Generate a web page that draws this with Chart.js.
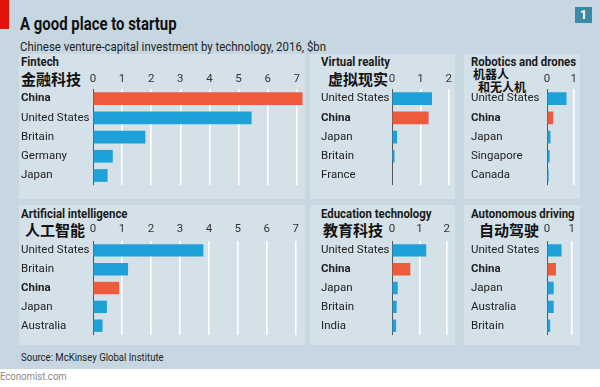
<!DOCTYPE html>
<html>
<head>
<meta charset="utf-8">
<script src="https://cdn.jsdelivr.net/npm/chart.js@4"></script>
<style>
  body { margin: 0; width: 600px; height: 387px; background: #fff; position: relative; overflow: hidden;
         font-family: Roboto, sans-serif; color: #1a1a1a; }
  #bg { position: absolute; left: 0; top: 0; width: 600px; height: 369px; background: #c7d7e1; }
  .panel { position: absolute; background: #d4e1e9; }
  .t { position: absolute; white-space: nowrap; line-height: 1; transform-origin: 0 0; }
  .b { font-weight: bold; }
  .h { font-weight: bold; font-size: 12px; transform: scaleX(0.95); }
  .cn { font-family: 'Noto Sans CJK SC', sans-serif; font-weight: bold; color: #111; }
  canvas { position: absolute; }
</style>
</head>
<body>
<div id="bg"></div>

<div class="panel" style="left:19px;top:54px;width:286px;height:145px"></div>
<div class="panel" style="left:310px;top:54px;width:145px;height:145px"></div>
<div class="panel" style="left:464px;top:54px;width:116px;height:145px"></div>
<div class="panel" style="left:19px;top:205px;width:286px;height:140px"></div>
<div class="panel" style="left:310px;top:205px;width:145px;height:140px"></div>
<div class="panel" style="left:464px;top:205px;width:116px;height:140px"></div>

<div class="t" style="left:0;top:0;width:9px;height:29px;background:#e3120b"></div>
<div class="t b" style="left:575px;top:7px;width:17px;height:16px;background:#3a8aa5;color:#fff;font-size:12px;line-height:16px;text-align:center">1</div>
<div class="t b" style="left:20px;top:15px;font-size:18px;color:#111;transform:scaleX(0.83)">A good place to startup</div>
<div class="t" style="left:20px;top:40px;font-size:13px;color:#222;transform:scaleX(0.88)">Chinese venture-capital investment by technology, 2016, $bn</div>

<div class="t h" style="left:21px;top:56px">Fintech</div>
<div class="t h" style="left:321px;top:56px">Virtual reality</div>
<div class="t h" style="left:471px;top:56px">Robotics and drones</div>
<div class="t h" style="left:21px;top:208px">Artificial intelligence</div>
<div class="t h" style="left:321px;top:208px">Education technology</div>
<div class="t h" style="left:471px;top:208px">Autonomous driving</div>

<div class="t cn" style="left:21px;top:71px;font-size:15px">金融科技</div>
<div class="t cn" style="left:328px;top:71px;font-size:15px">虚拟现实</div>
<div class="t cn" style="left:473px;top:68px;font-size:12px">机器人</div>
<div class="t cn" style="left:478px;top:81px;font-size:12px">和无人机</div>
<div class="t cn" style="left:25px;top:222px;font-size:15px">人工智能</div>
<div class="t cn" style="left:323px;top:222px;font-size:15px">教育科技</div>
<div class="t cn" style="left:479px;top:222px;font-size:15px">自动驾驶</div>

<canvas id="fintech" width="283" height="128" style="left:21px;top:67px"></canvas>
<canvas id="vr" width="134" height="128" style="left:321px;top:67px"></canvas>
<canvas id="robotics" width="109" height="128" style="left:471px;top:67px"></canvas>
<canvas id="ai" width="283" height="126" style="left:21px;top:219px"></canvas>
<canvas id="edtech" width="134" height="126" style="left:321px;top:219px"></canvas>
<canvas id="auto" width="109" height="126" style="left:471px;top:219px"></canvas>

<div class="t" style="left:21px;top:352px;font-size:11px;color:#222;transform:scaleX(0.87)">Source: McKinsey Global Institute</div>
<div class="t" style="left:0;top:371px;font-size:11px;color:#8a8a8a;transform:scaleX(0.87)">Economist.com</div>

<script>
// $bn
const fintechLabels = ['China', 'United States', 'Britain', 'Germany', 'Japan'];
const fintechValues = [7.2, 5.45, 1.8, 0.68, 0.5];
const vrLabels = ['United States', 'China', 'Japan', 'Britain', 'France'];
const vrValues = [1.41, 1.29, 0.18, 0.09, 0.02];
const roboticsLabels = ['United States', 'China', 'Japan', 'Singapore', 'Canada'];
const roboticsValues = [0.73, 0.23, 0.13, 0.1, 0.06];
const aiLabels = ['United States', 'Britain', 'China', 'Japan', 'Australia'];
const aiValues = [3.81, 1.21, 0.9, 0.48, 0.33];
const edtechLabels = ['United States', 'China', 'Japan', 'Britain', 'India'];
const edtechValues = [1.25, 0.67, 0.21, 0.17, 0.15];
const autoLabels = ['United States', 'China', 'Japan', 'Australia', 'Britain'];
const autoValues = [0.59, 0.36, 0.27, 0.27, 0.13];

const wideTicks = [0, 1, 2, 3, 4, 5, 6, 7];
const midTicks = [0, 1, 2];
const smallTicks = [0, 1];

const FONT = "Roboto, sans-serif";
const BLUE = '#1ea0d8';
const RED = '#ee5a3c';

function barChart(id, labels, values, ticks, max, labelWidth, tickPad) {
  new Chart(document.getElementById(id), {
    type: 'bar',
    data: {
      labels: labels,
      datasets: [{
        data: values,
        backgroundColor: labels.map(l => l === 'China' ? RED : BLUE),
        barPercentage: 0.66,
        categoryPercentage: 1
      }]
    },
    options: {
      indexAxis: 'y',
      responsive: false,
      animation: false,
      layout: { padding: 0 },
      plugins: { legend: { display: false }, tooltip: { enabled: false } },
      scales: {
        x: {
          position: 'top',
          min: 0,
          max: max,
          afterBuildTicks: s => { s.ticks = ticks.map(v => ({ value: v })); },
          afterFit: s => { s.height = 22; },
          border: { display: false },
          grid: {
            drawTicks: false,
            color: c => c.tick && c.tick.value === 0 ? '#555' : '#ffffff',
            lineWidth: c => c.tick && c.tick.value === 0 ? 1 : 1.6
          },
          ticks: { padding: tickPad, color: '#333', font: { family: FONT, size: 11.5 } }
        },
        y: {
          afterFit: s => { s.width = labelWidth; },
          border: { display: false },
          grid: { display: false },
          ticks: {
            crossAlign: 'far',
            color: '#222',
            autoSkip: false,
            font: c => ({ family: FONT, size: 11.5, weight: c.tick && c.tick.label === 'China' ? 'bold' : 'normal' })
          }
        }
      }
    }
  });
}

barChart('fintech', fintechLabels, fintechValues, wideTicks, 7.25, 72, 3);
barChart('vr', vrLabels, vrValues, midTicks, 2.1, 71, 3);
barChart('robotics', roboticsLabels, roboticsValues, smallTicks, 1.1, 76, 3);
barChart('ai', aiLabels, aiValues, wideTicks, 7.25, 72, 5);
barChart('edtech', edtechLabels, edtechValues, midTicks, 2.1, 71, 5);
barChart('auto', autoLabels, autoValues, smallTicks, 1.1, 76, 5);
</script>
</body>
</html>
